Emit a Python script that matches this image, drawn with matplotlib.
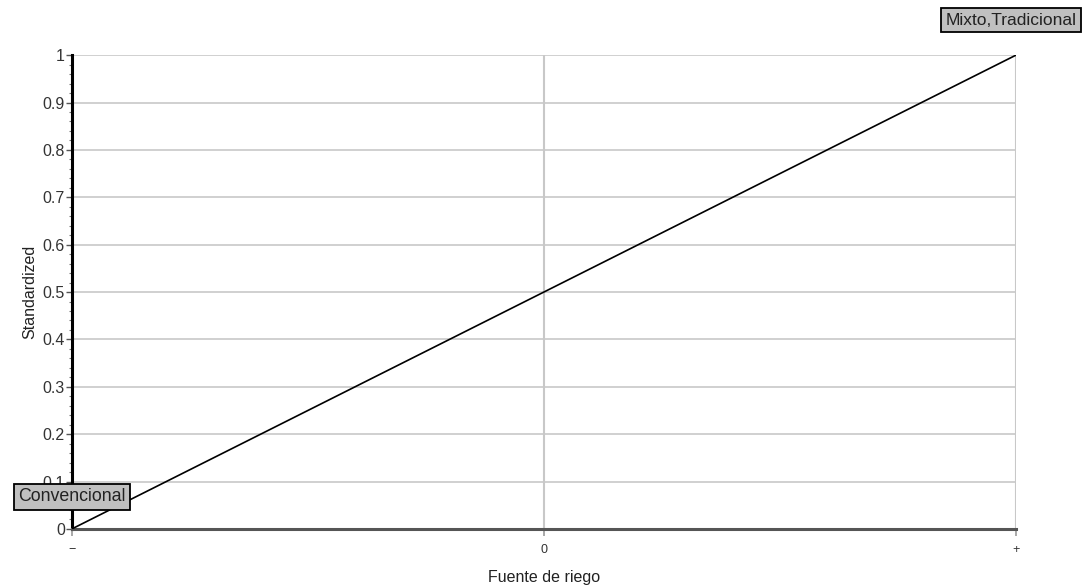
import matplotlib.pyplot as plt
from matplotlib.ticker import MultipleLocator

plt.rcParams["font.family"] = ["Liberation Sans", "DejaVu Sans"]

# data
x_levels = [-1, 1]
standardized = [0.0, 1.0]
level_labels = ["Convencional", "Mixto,Tradicional"]
x_ticks = [-1, 0, 1]
x_tick_labels = ["\u2212", "0", "+"]
y_ticks = [0, 0.1, 0.2, 0.3, 0.4, 0.5, 0.6, 0.7, 0.8, 0.9, 1]

fig = plt.figure(figsize=(10.9, 5.87), dpi=100)
ax = fig.add_axes([0.066, 0.099, 0.866, 0.807])

ax.set_xlim(-1, 1)
ax.set_ylim(0, 1)

# grid
for y in y_ticks[1:]:
    ax.axhline(y, color="#c8c8c8", lw=1.2, zorder=1)
for x in x_ticks[1:]:
    ax.axvline(x, color="#c8c8c8", lw=1.5, zorder=1)

ax.plot(x_levels, standardized, color="black", lw=1.2, zorder=3)

for s in ["top", "right"]:
    ax.spines[s].set_visible(False)
ax.spines["left"].set_linewidth(2.2)
ax.spines["left"].set_color("black")
ax.spines["bottom"].set_linewidth(2.2)
ax.spines["bottom"].set_color("#555555")

ax.set_yticks(y_ticks)
ax.set_yticklabels([f"{v:g}" for v in y_ticks], fontsize=11.5, color="#333333")
ax.yaxis.set_minor_locator(MultipleLocator(0.02))
ax.tick_params(axis="y", which="major", length=4, width=1, color="#555555", pad=1)
ax.tick_params(axis="y", which="minor", length=2, width=0.8, color="#777777")

ax.set_xticks(x_ticks)
ax.set_xticklabels(x_tick_labels, fontsize=9, color="#333333")
ax.tick_params(axis="x", length=5, width=1.2, color="#999999", pad=6)

ax.set_xlabel("Fuente de riego", fontsize=11.5, labelpad=10, color="#222222")
ax.set_ylabel("Standardized", fontsize=11.5, labelpad=4, color="#222222")

box = dict(boxstyle="square,pad=0.25", facecolor="#c0c0c0", edgecolor="black", lw=1.3)
ax.annotate(level_labels[0], (x_levels[0], standardized[0]), xytext=(0, 32),
            textcoords="offset pixels", fontsize=12.8, ha="center", va="center",
            bbox=box, zorder=5, annotation_clip=False, color="#222222")
ax.annotate(level_labels[1], (x_levels[1], standardized[1]), xytext=(-5, 35),
            textcoords="offset pixels", fontsize=12.5, ha="center", va="center",
            bbox=box, zorder=5, annotation_clip=False, color="#222222")

fig.savefig("out.png", dpi=100)
